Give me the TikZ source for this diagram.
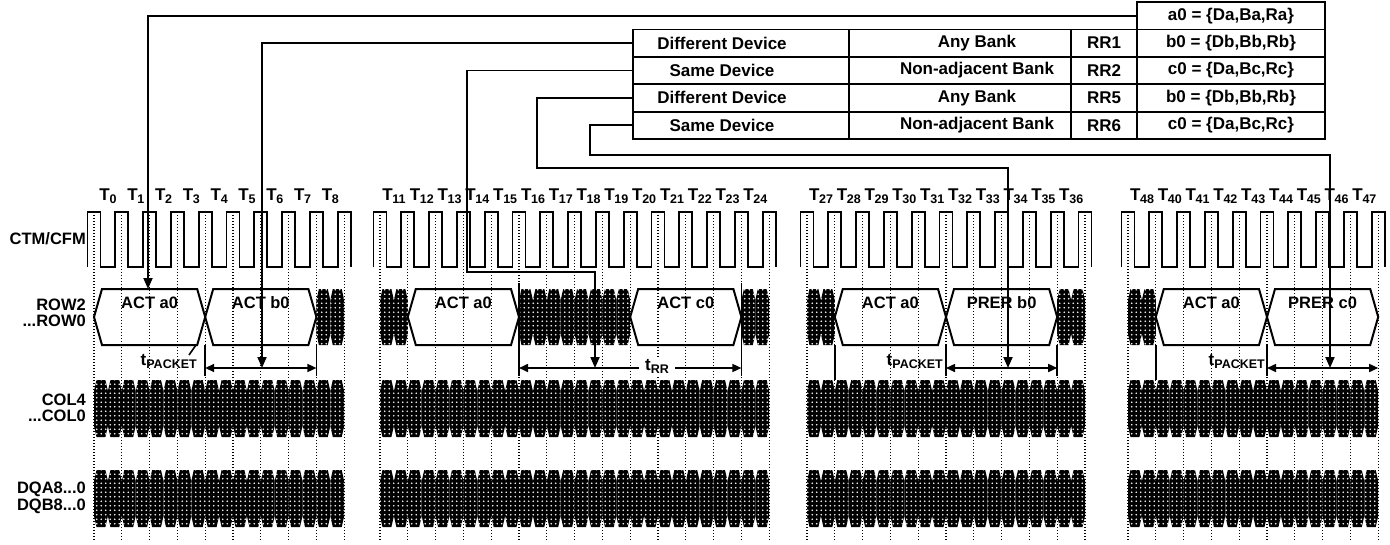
\documentclass[tikz,border=0pt]{standalone}
\usepackage{fontspec}
\setmainfont{Liberation Sans}
\usetikzlibrary{arrows.meta,patterns.meta}

\tikzdeclarepattern{
  name=bitdots,
  type=uncolored,
  bottom left={(-.1pt,-.1pt)},
  top right={(4.6pt,4.6pt)},
  tile size={(4.5pt,4.5pt)},
  code={\fill (2.25pt,2.25pt) circle[radius=0.8pt];}
}

\newcommand{\tpitch}{27.8}
\newcommand{\halfp}{13.9}
\newcommand{\tk}[1]{T\kern-0.3pt\raisebox{-3.5pt}{\fontsize{12.5}{12.5}\selectfont #1}}
\newcommand{\tsub}[2]{#1\raisebox{-3.5pt}{\fontsize{12.5}{12.5}\selectfont #2}}

% one stippled bus cell: left x, top y, bottom y
\newcommand{\hcell}[3]{\fill[hatch] (#1,{#2+11}) -- ({#1+2.5},#2) -- ({#1+\halfp-2.5},#2) -- ({#1+\halfp},{#2+11}) -- ({#1+\halfp},{#3-11}) -- ({#1+\halfp-2.5},#3) -- ({#1+2.5},#3) -- (#1,{#3-11}) -- cycle;}

% one row packet: start x, end x, name, text
\newcommand{\packet}[4]{\draw[pkt] (#1,317) -- ({#1+8},289) -- ({#2-8},289) -- (#2,317) -- ({#2-8},345) -- ({#1+8},345) -- cycle;
  \node[pkttxt] (#3) at ({(#1+#2)/2},303) {#4};}

\begin{document}
\begin{tikzpicture}[x=1pt,y=-1pt,
  every node/.style={font=\bfseries\fontsize{17}{17}\selectfont, inner sep=0pt},
  cell/.style={draw, line width=1.8pt, minimum height=27.4pt, outer sep=0pt},
  siglab/.style={anchor=east, align=right, font=\bfseries\fontsize{16.5}{16.5}\selectfont},
  tklab/.style={anchor=base},
  pkt/.style={line width=2pt},
  pkttxt/.style={font=\bfseries\fontsize{16.5}{16.5}\selectfont},
  hatch/.style={fill=black, postaction={pattern=bitdots, pattern color=white}},
  grid/.style={line width=1.1pt, dash pattern=on 1.1pt off 1.9pt},
  sig/.style={line width=1.8pt},
  link/.style={line width=1.8pt, -{Triangle[length=11pt,width=9pt]}},
  dim/.style={line width=1.6pt, {Triangle[length=9pt,width=8pt]}-{Triangle[length=9pt,width=8pt]}},
  bound/.style={line width=1.6pt},
  tlab/.style={anchor=base east}
]
\useasboundingbox (0,0) rectangle (1390,544);

% signal names
\node[siglab] (ctm) at (86,239) {CTM/CFM};
\node[siglab] (row) at (86,313) {ROW2\\...ROW0};
\node[siglab] (col) at (86,408) {COL4\\...COL0};
\node[siglab] (dq) at (86,498) {DQA8...0\\DQB8...0};

% dotted clock grid
\foreach \cz/\nn in {94/9, 380/14, 807/10, 1128/9}
  \foreach \k in {0,...,\nn}
    \draw[grid] ({\cz+\tpitch*\k},212) -- ({\cz+\tpitch*\k},541);

% clock
\foreach \cz/\nn in {94/9, 380/14, 807/10, 1128/9}
  \draw[sig] ({\cz-6.5},267) \foreach \k in {0,...,\nn}{ -- ({\cz+\tpitch*\k-6.5},267) -- ({\cz+\tpitch*\k-6.5},212) -- ({\cz+\tpitch*\k+6.5},212) -- ({\cz+\tpitch*\k+6.5},267)};

% clock labels
\foreach \cz/\labs in {94/{0,1,2,3,4,5,6,7,8}, 380/{11,12,...,24}, 807/{27,28,...,36}, 1128/{48,40,41,42,43,44,45,46,47}}
  \foreach \t [count=\k from 0] in \labs
    \node[tklab] (T\t) at ({\cz+\tpitch*\k+14},200) {\tk{\t}};

% row bus, idle cells
\foreach \xs/\nc in {316.4/2, 380/2, 519/8, 741.4/2, 807/2, 1057.2/2, 1128/2}
  \foreach \j in {1,...,\nc}{
    \pgfmathsetmacro\xa{\xs+\halfp*(\j-1)}
    \hcell{\xa}{289}{345}
  }

% column and data buses
\foreach \xs/\nc in {94/18, 380/28, 807/20, 1128/18}
  \foreach \j in {1,...,\nc}{
    \pgfmathsetmacro\xa{\xs+\halfp*(\j-1)}
    \hcell{\xa}{380}{437}
    \hcell{\xa}{470}{527}
  }

% row packets
\packet{94}{205.2}{pa1}{ACT a0}
\packet{205.2}{316.4}{pb1}{ACT b0}
\packet{407.8}{519}{pa2}{ACT a0}
\packet{630.2}{741.4}{pc2}{ACT c0}
\packet{834.8}{946}{pa3}{ACT a0}
\packet{946}{1057.2}{pb3}{PRER b0}
\packet{1155.8}{1267}{pa4}{ACT a0}
\packet{1267}{1378.2}{pc4}{PRER c0}

% timing bounds
\draw[bound] (205.2,345) -- (205.2,376) (316.4,345) -- (316.4,376);
\draw[bound] (519,283) -- (519,376) (741.4,283) -- (741.4,376);
\draw[bound] (946,345) -- (946,376) (1057.2,345) -- (1057.2,376) (834.8,345) -- (834.8,380);
\draw[bound] (1267,345) -- (1267,376) (1155.8,345) -- (1155.8,380);
\draw[bound] (189,355) -- (196,345);

\coordinate (d1l) at (205.2,368); \coordinate (d1r) at (316.4,368);
\coordinate (d2l) at (519,368);   \coordinate (d2r) at (741.4,368);
\coordinate (d3l) at (946,368);   \coordinate (d3r) at (1057.2,368);
\coordinate (d4l) at (1267,368);  \coordinate (d4r) at (1378.2,368);
\draw[dim] (d1l) -- (d1r);
\draw[dim] (d2l) -- (d2r);
\draw[dim] (d3l) -- (d3r);
\draw[dim] (d4l) -- (d4r);

\node[tlab] (tp1) at (197,365) {\tsub{t}{PACKET}};
\node[tlab] (tp3) at (943,365) {\tsub{t}{PACKET}};
\node[tlab] (tp4) at (1265,365) {\tsub{t}{PACKET}};
\node[fill=white, inner xsep=6pt, inner ysep=2pt, anchor=base] (trr) at (657,370) {\tsub{t}{RR}};

% table
\node[cell, minimum width=188pt] (a0box) at (1231,15.7) {a0 = \{Da,Ba,Ra\}};
\foreach \i/\dv/\bk/\rr/\vl in {1/Different Device/Any Bank/RR1/{b0 = \{Db,Bb,Rb\}},
    2/Same Device/Non-adjacent Bank/RR2/{c0 = \{Da,Bc,Rc\}},
    3/Different Device/Any Bank/RR5/{b0 = \{Db,Bb,Rb\}},
    4/Same Device/Non-adjacent Bank/RR6/{c0 = \{Da,Bc,Rc\}}}{
  \pgfmathsetmacro\yy{15.7+27.4*\i}
  \node[cell, minimum width=216pt] (dev\i) at (741,\yy) {};
  \node (devt\i) at (722,\yy) {\dv};
  \node[cell, minimum width=222pt] (bank\i) at (960,\yy) {};
  \node (bankt\i) at (977,\yy) {\bk};
  \node[cell, minimum width=66pt] (rr\i) at (1104,\yy) {\rr};
  \node[cell, minimum width=188pt] (val\i) at (1231,\yy) {\vl};
}

% connectors from the table
\coordinate (hitA) at (148,289);
\coordinate (hitB) at (262,368);
\coordinate (bendC) at (467,272); \coordinate (hitC) at (595,368);
\coordinate (bendD) at (537,168); \coordinate (hitD) at (1008,368);
\coordinate (bendE) at (590,155); \coordinate (hitE) at (1330,368);
\draw[link] (a0box.west) -| (hitA);
\draw[link] (dev1.west) -| (hitB);
\draw[link] (dev2.west) -| (bendC) -| (hitC);
\draw[link] (dev3.west) -| (bendD) -| (hitD);
\draw[link] (dev4.west) -| (bendE) -| (hitE);
\end{tikzpicture}
\end{document}
